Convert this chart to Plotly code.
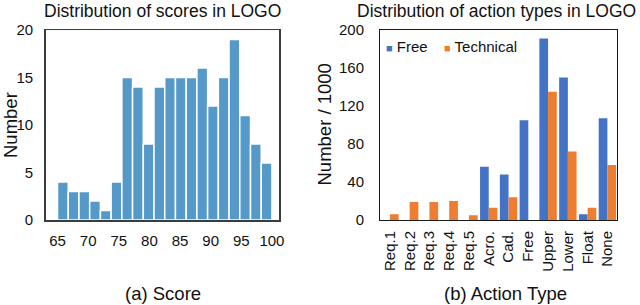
import plotly.graph_objects as go

# ---------------- data ----------------
score_counts = [4, 3, 3, 2, 1, 4, 15, 14, 8, 14, 15, 15, 15, 16, 12, 15, 19, 11, 8, 6]
score_min, score_max = 65, 100
score_ticks = [65, 70, 75, 80, 85, 90, 95, 100]
number_ticks = [0, 5, 10, 15, 20]

action_types = ["Req.1", "Req.2", "Req.3", "Req.4", "Req.5", "Acro.", "Cad.",
                "Free", "Upper", "Lower", "Float", "None"]
free_counts = [0, 0, 0, 0, 0, 56, 48, 105, 191, 150, 6, 107]
technical_counts = [6, 19, 19, 20, 5, 13, 24, 0, 135, 72, 13, 58]
action_ticks = [0, 40, 80, 120, 160, 200]

# ---------------- layout helpers ----------------
W, H = 640, 305
FONT = "Liberation Sans, Arial, sans-serif"


def px(x):
    return x / W


def py(y):
    return (H - y) / H


n_bins = len(score_counts)
bin_w = (score_max - score_min) / n_bins
bin_centers = [score_min + bin_w * (i + 0.5) for i in range(n_bins)]

fig = go.Figure()

fig.add_trace(go.Bar(
    x=bin_centers, y=score_counts, width=bin_w,
    marker=dict(color="#5599c9", line=dict(color="white", width=1.5)),
    xaxis="x", yaxis="y", showlegend=False, name="Score",
))

fig.add_trace(go.Bar(
    x=action_types, y=free_counts, name="Free",
    marker=dict(color="#4472c4", line=dict(width=0)), xaxis="x2", yaxis="y2",
    showlegend=False,
))
fig.add_trace(go.Bar(
    x=action_types, y=technical_counts, name="Technical",
    marker=dict(color="#ed7d31", line=dict(width=0)), xaxis="x2", yaxis="y2",
    showlegend=False,
))

left_dom = [px(45.7), px(279.3)]
right_dom = [px(380), px(617.3)]
y_dom = [py(220), py(30)]

tickfont = dict(family=FONT, size=15, color="#111")
common = dict(showgrid=False, zeroline=False, showline=True, mirror=True,
              ticks="", automargin=False, tickfont=tickfont)

fig.update_layout(
    template="none",
    width=W, height=H, autosize=False,
    margin=dict(l=0, r=0, t=0, b=0, pad=0, autoexpand=False),
    paper_bgcolor="white", plot_bgcolor="white",
    barmode="group", bargap=0.12, bargroupgap=0.0,
    font=dict(family=FONT, color="#111"),
    xaxis=dict(domain=left_dom, range=[63.07, 101.2], tickvals=score_ticks,
               linecolor="#3c3c3c", linewidth=1.5, ticklabelstandoff=6,
               anchor="y", **common),
    yaxis=dict(domain=y_dom, range=[0, 20], tickvals=number_ticks,
               linecolor="#3c3c3c", linewidth=1.5, ticklabelstandoff=8,
               anchor="x", **common),
    xaxis2=dict(domain=right_dom, type="category", tickangle=-90,
                linecolor="#1a1a1a", linewidth=1, ticklabelstandoff=4,
                anchor="y2", **common),
    yaxis2=dict(domain=y_dom, range=[0, 200], tickvals=action_ticks,
                linecolor="#1a1a1a", linewidth=1, ticklabelstandoff=12,
                anchor="x2", **common),
)

ann = []
# titles
ann.append(dict(text="Distribution of scores in LOGO", x=px(162.5), y=py(11),
                xref="paper", yref="paper", xanchor="center", yanchor="middle",
                showarrow=False, font=dict(family=FONT, size=17.5, color="#111")))
ann.append(dict(text="Distribution of action types in LOGO", x=px(496), y=py(11),
                xref="paper", yref="paper", xanchor="center", yanchor="middle",
                showarrow=False, font=dict(family=FONT, size=17.5, color="#111")))
# axis titles
ann.append(dict(text="Number", x=px(10), y=py(125), textangle=-90,
                xref="paper", yref="paper", xanchor="center", yanchor="middle",
                showarrow=False, font=dict(family=FONT, size=18.5, color="#111")))
ann.append(dict(text="Number / 1000", x=px(323.5), y=py(125), textangle=-90,
                xref="paper", yref="paper", xanchor="center", yanchor="middle",
                showarrow=False, font=dict(family=FONT, size=18.5, color="#111")))
# captions
ann.append(dict(text="(a) Score", x=px(162.5), y=py(293),
                xref="paper", yref="paper", xanchor="center", yanchor="middle",
                showarrow=False, font=dict(family=FONT, size=18.5, color="#111")))
ann.append(dict(text="(b) Action Type", x=px(505.5), y=py(293),
                xref="paper", yref="paper", xanchor="center", yanchor="middle",
                showarrow=False, font=dict(family=FONT, size=18.5, color="#111")))
# legend
ann.append(dict(text="<span style='color:#4472c4;font-size:11px'>■</span> Free",
                x=px(384), y=py(46), xref="paper", yref="paper",
                xanchor="left", yanchor="middle", showarrow=False,
                font=dict(family=FONT, size=15, color="#111")))
ann.append(dict(text="<span style='color:#ed7d31;font-size:11px'>■</span> Technical",
                x=px(442), y=py(46), xref="paper", yref="paper",
                xanchor="left", yanchor="middle", showarrow=False,
                font=dict(family=FONT, size=15, color="#111")))
fig.update_layout(annotations=ann)

fig.write_html(
    "out.html",
    config={"displayModeBar": False, "staticPlot": True},
    post_script="document.body.style.margin='0';document.body.style.overflow='hidden';",
)
